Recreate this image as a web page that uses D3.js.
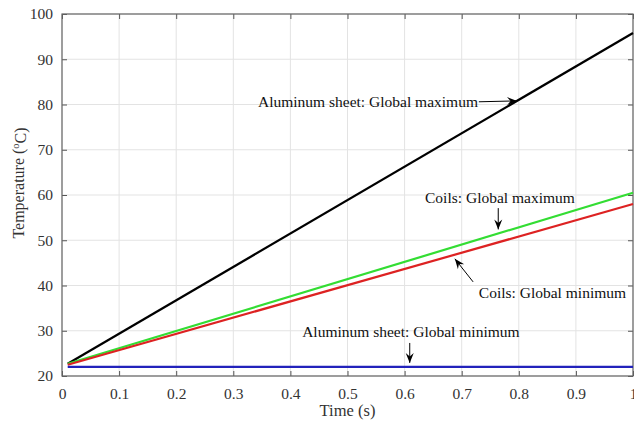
<!DOCTYPE html>
<html>
<head>
<meta charset="utf-8">
<script src="https://cdn.jsdelivr.net/npm/d3@7"></script>
<style>
  body { margin: 0; background: #fff; }
  svg text { font-family: "Liberation Serif", "Times New Roman", serif; fill: #333; }
</style>
</head>
<body>
<svg id="chart" width="634" height="423"></svg>
<script>
// values
var time = [0.01, 1];
var alMax = [22.7, 95.8];
var coilMax = [22.7, 60.5];
var coilMin = [22.5, 58.0];
var alMin = [22.0, 22.0];

var xTicks = [0, 0.1, 0.2, 0.3, 0.4, 0.5, 0.6, 0.7, 0.8, 0.9, 1];
var yTicks = [20, 30, 40, 50, 60, 70, 80, 90, 100];

var seriesNames = ["alMax", "coilMax", "coilMin", "alMin"];
var seriesValues = [alMax, coilMax, coilMin, alMin];
var seriesColors = ["#000000", "#33dd33", "#dd2222", "#2222bb"];

// annotation text, label anchor (data units) and arrow from/to (data units)
var noteText = ["Aluminum sheet: Global maximum", "Coils: Global maximum",
                "Coils: Global minimum", "Aluminum sheet: Global minimum"];
var noteAt = [[0.7285, 80.55], [0.767, 58.3], [0.730, 37.2], [0.611, 28.7]];
var noteAnchor = ["end", "middle", "start", "middle"];
var arrowFrom = [[0.730, 80.6], [0.764, 57.1], [0.720, 40.8], [0.609, 27.3]];
var arrowTo = [[0.797, 80.8], [0.764, 52.4], [0.688, 45.9], [0.609, 22.9]];

var MARGINS = {top: 14, right: 1, bottom: 47, left: 62};
var WIDTH = 634, HEIGHT = 423;

var svg = d3.select("#chart");

var xRange = d3.scaleLinear()
    .domain([0, 1])
    .range([MARGINS.left, WIDTH - MARGINS.right]);
var yRange = d3.scaleLinear()
    .domain([20, 100])
    .range([HEIGHT - MARGINS.bottom, MARGINS.top]);

var x0 = xRange(0), x1 = xRange(1), y0 = yRange(20), y1 = yRange(100);

// grid
svg.append("g").selectAll("line").data(xTicks).enter().append("line")
    .attr("x1", d => xRange(d)).attr("x2", d => xRange(d))
    .attr("y1", y1).attr("y2", y0)
    .style("stroke", "#e3e3e3").style("stroke-width", 1);
svg.append("g").selectAll("line").data(yTicks).enter().append("line")
    .attr("x1", x0).attr("x2", x1)
    .attr("y1", d => yRange(d)).attr("y2", d => yRange(d))
    .style("stroke", "#e3e3e3").style("stroke-width", 1);

// axes, matlab style: ticks inward on all four sides
var tickLen = 5;
var bottomAxis = d3.axisBottom(xRange).tickValues(xTicks).tickSizeInner(-tickLen).tickSizeOuter(0)
    .tickPadding(12).tickFormat(d3.format("~g"));
var topAxis = d3.axisTop(xRange).tickValues(xTicks).tickSizeInner(-tickLen).tickSizeOuter(0).tickFormat("");
var leftAxis = d3.axisLeft(yRange).tickValues(yTicks).tickSizeInner(-tickLen).tickSizeOuter(0)
    .tickPadding(9).tickFormat(d3.format("d"));
var rightAxis = d3.axisRight(yRange).tickValues(yTicks).tickSizeInner(-tickLen).tickSizeOuter(0).tickFormat("");

function styleAxis(g) {
  g.select(".domain").remove();
  g.selectAll(".tick line").attr("stroke", "#555");
  g.selectAll(".tick text").style("font-size", "15.5px").attr("fill", "#333");
}

svg.append("g").attr("transform", "translate(0," + y0 + ")").call(bottomAxis).call(styleAxis);
svg.append("g").attr("transform", "translate(0," + y1 + ")").call(topAxis).call(styleAxis);
svg.append("g").attr("transform", "translate(" + x0 + ",0)").call(leftAxis).call(styleAxis);
svg.append("g").attr("transform", "translate(" + x1 + ",0)").call(rightAxis).call(styleAxis);

svg.selectAll(".tick text").attr("font-family", null);

// box
svg.append("rect")
    .attr("x", x0).attr("y", y1)
    .attr("width", x1 - x0).attr("height", y0 - y1)
    .style("fill", "none").style("stroke", "#666").style("stroke-width", 1.2);

// lines
var lineFunc = d3.line()
    .x(d => xRange(d[0]))
    .y(d => yRange(d[1]));

for (let i = 0; i < seriesValues.length; i++) {
  var pts = time.map((t, j) => [t, seriesValues[i][j]]);
  svg.append("path")
      .attr("class", "series " + seriesNames[i])
      .attr("d", lineFunc(pts))
      .attr("stroke", seriesColors[i])
      .attr("stroke-width", 2.2)
      .attr("fill", "none");
}

// arrow head
svg.append("defs").append("marker")
    .attr("id", "head")
    .attr("viewBox", "-11 -5 12 10")
    .attr("refX", 0).attr("refY", 0)
    .attr("markerWidth", 12).attr("markerHeight", 10)
    .attr("markerUnits", "userSpaceOnUse")
    .attr("orient", "auto")
    .append("path")
    .attr("d", "M0,0 L-10,-4 L-6.5,0 L-10,4 Z")
    .attr("fill", "#000");

// annotations
for (let i = 0; i < noteText.length; i++) {
  svg.append("line")
      .attr("x1", xRange(arrowFrom[i][0])).attr("y1", yRange(arrowFrom[i][1]))
      .attr("x2", xRange(arrowTo[i][0])).attr("y2", yRange(arrowTo[i][1]))
      .attr("stroke", "#000").attr("stroke-width", 1)
      .attr("marker-end", "url(#head)");
  svg.append("text")
      .attr("x", xRange(noteAt[i][0]))
      .attr("y", yRange(noteAt[i][1]))
      .attr("text-anchor", noteAnchor[i])
      .attr("dy", i == 0 ? "0.32em" : 0)
      .style("font-size", "15.5px")
      .style("fill", "#111")
      .text(noteText[i]);
}

// axis labels
svg.append("text")
    .attr("x", (x0 + x1) / 2)
    .attr("y", 416)
    .attr("text-anchor", "middle")
    .style("font-size", "16.5px")
    .text("Time (s)");

var yl = svg.append("text")
    .attr("transform", "translate(24,183) rotate(-90)")
    .attr("text-anchor", "middle")
    .style("font-size", "16px");
yl.append("tspan").text("Temperature (");
yl.append("tspan").attr("dy", "-0.45em").style("font-size", "10.5px").text("o");
yl.append("tspan").attr("dy", "0.45em").text("C)");
</script>
</body>
</html>
